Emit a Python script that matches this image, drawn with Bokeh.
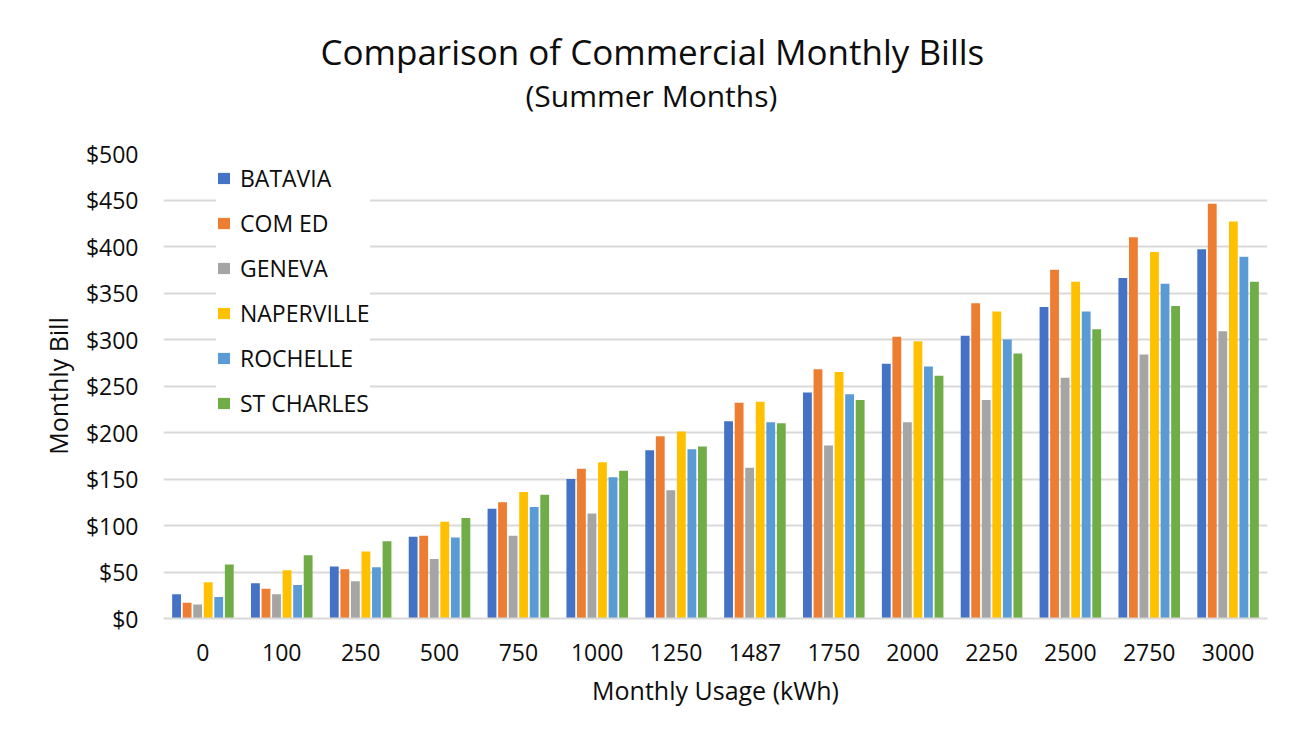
from bokeh.plotting import figure
from bokeh.models import FactorRange, ColumnDataSource, NumeralTickFormatter, Title, Legend, LegendItem
from bokeh.transform import dodge
from bokeh.embed import file_html
from bokeh.resources import INLINE

categories = ["0", "100", "250", "500", "750", "1000", "1250", "1487",
              "1750", "2000", "2250", "2500", "2750", "3000"]
batavia = [26, 38, 56, 88, 118, 150, 181, 212, 243, 274, 304, 335, 366, 397]
com_ed = [17, 32, 53, 89, 125, 161, 196, 232, 268, 303, 339, 375, 410, 446]
geneva = [15, 26, 40, 64, 89, 113, 138, 162, 186, 211, 235, 259, 284, 309]
naperville = [39, 52, 72, 104, 136, 168, 201, 233, 265, 298, 330, 362, 394, 427]
rochelle = [23, 36, 55, 87, 120, 152, 182, 211, 241, 271, 300, 330, 360, 389]
st_charles = [58, 68, 83, 108, 133, 159, 185, 210, 235, 261, 285, 311, 336, 362]

series_names = ["BATAVIA", "COM ED", "GENEVA", "NAPERVILLE", "ROCHELLE", "ST CHARLES"]
series_keys = ["batavia", "com_ed", "geneva", "naperville", "rochelle", "st_charles"]
colors = ["#4472C4", "#ED7D31", "#A5A5A5", "#FFC000", "#5B9BD5", "#70AD47"]

title_text = "Comparison of Commercial Monthly Bills"
subtitle_text = "(Summer Months)"

source = ColumnDataSource(data=dict(
    cat=categories, batavia=batavia, com_ed=com_ed, geneva=geneva,
    naperville=naperville, rochelle=rochelle, st_charles=st_charles))

FONT = "Open Sans"
TXT = "#0d0d0d"

p = figure(x_range=FactorRange(*categories, range_padding=0), y_range=(0, 500),
           width=1290, height=738, output_backend="svg", toolbar_location=None,
           min_border_left=163, min_border_right=23, min_border_top=153, min_border_bottom=120)
p.outline_line_color = None
p.background_fill_color = "white"
p.border_fill_color = "white"

slot = 0.1337
items = []
for i, (key, name, col) in enumerate(zip(series_keys, series_names, colors)):
    r = p.vbar(x=dodge("cat", (i - 2.5) * slot, range=p.x_range), top=key, width=0.112,
               source=source, fill_color=col, line_color=None)
    items.append(LegendItem(label=name, renderers=[r]))

legend = Legend(items=items, location=(53, 199), padding=8,
                glyph_width=15, glyph_height=14, label_height=30, spacing=13,
                label_standoff=9, label_text_font=FONT, label_text_font_size="23px",
                label_text_color=TXT, border_line_color=None,
                background_fill_color="white", background_fill_alpha=1.0)
p.add_layout(legend)

# grid
p.xgrid.grid_line_color = None
p.ygrid.grid_line_color = "#d9d9d9"
p.ygrid.grid_line_width = 2
p.yaxis.ticker = list(range(0, 501, 50))

# y axis
p.yaxis.formatter = NumeralTickFormatter(format="$0")
p.yaxis.axis_line_color = None
p.yaxis.major_tick_line_color = None
p.yaxis.minor_tick_line_color = None
p.yaxis.major_tick_out = 0
p.yaxis.minor_tick_out = 0
p.yaxis.major_label_standoff = 25
p.yaxis.major_label_text_font = FONT
p.yaxis.major_label_text_font_size = "23px"
p.yaxis.major_label_text_color = TXT
p.yaxis.axis_label = "Monthly Bill"
p.yaxis.axis_label_text_font = FONT
p.yaxis.axis_label_text_font_size = "25px"
p.yaxis.axis_label_text_font_style = "normal"
p.yaxis.axis_label_text_color = TXT
p.yaxis.axis_label_standoff = 8

# x axis
p.xaxis.axis_line_color = "#d9d9d9"
p.xaxis.axis_line_width = 2
p.xaxis.major_tick_line_color = None
p.xaxis.minor_tick_line_color = None
p.xaxis.major_tick_out = 0
p.xaxis.minor_tick_out = 0
p.xaxis.major_label_standoff = 25
p.xaxis.major_label_text_font = FONT
p.xaxis.major_label_text_font_size = "23px"
p.xaxis.major_label_text_color = TXT
p.xaxis.axis_label = "Monthly Usage (kWh)"
p.xaxis.axis_label_text_font = FONT
p.xaxis.axis_label_text_font_size = "25px"
p.xaxis.axis_label_text_font_style = "normal"
p.xaxis.axis_label_text_color = TXT
p.xaxis.axis_label_standoff = 9

# titles
sub = Title(text=subtitle_text, align="left", offset=362, text_font=FONT, text_font_size="30px",
            text_font_style="normal", text_color=TXT, standoff=76)
p.add_layout(sub, "above")
main = Title(text=title_text, align="left", offset=157, text_font=FONT,
             text_font_size="35px", text_font_style="normal", text_color=TXT, standoff=-80)
p.add_layout(main, "above")

open("out.html", "w").write(file_html(p, INLINE))
